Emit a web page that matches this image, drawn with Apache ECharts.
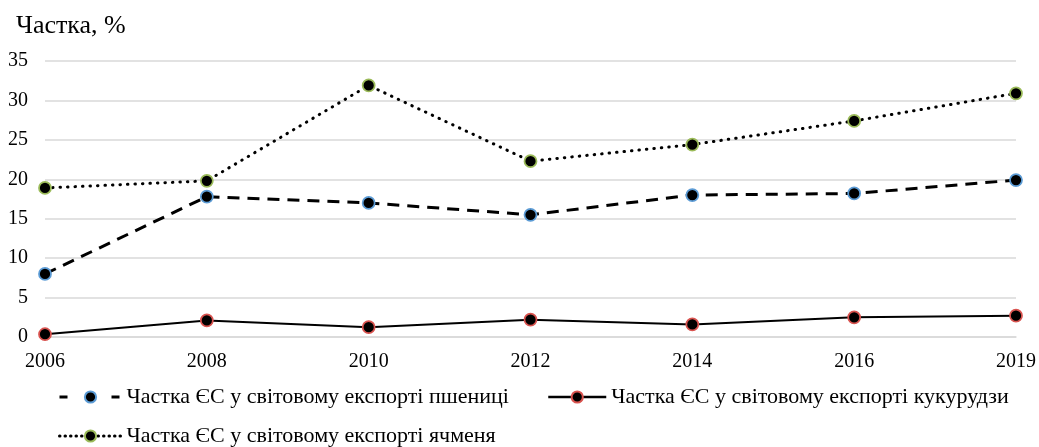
<!DOCTYPE html>
<html>
<head>
<meta charset="utf-8">
<script src="https://cdn.jsdelivr.net/npm/echarts@6/dist/echarts.min.js"></script>
<style>
  html, body { margin: 0; padding: 0; background: #fff; }
  #chart { width: 1039px; height: 447px; }
</style>
</head>
<body>
<div id="chart"></div>
<script>
const years = ["2006", "2008", "2010", "2012", "2014", "2016", "2019"];
const wheat = [8.0, 17.8, 17.0, 15.5, 18.0, 18.2, 19.9];
const corn = [0.35, 2.1, 1.25, 2.2, 1.6, 2.5, 2.7];
const barley = [18.9, 19.8, 31.9, 22.3, 24.4, 27.4, 30.9];
const names = [
	"Частка ЄС у світовому експорті пшениці",
	"Частка ЄС у світовому експорті кукурудзи",
	"Частка ЄС у світовому експорті ячменя"
];

const font = "'Liberation Serif', 'Times New Roman', serif";
const chart = echarts.init(document.getElementById("chart"));

const makeSeries = (name, data, border, lineStyle) => ({
	name,
	type: "line",
	data,
	symbol: "circle",
	symbolSize: 12,
	itemStyle: { color: "#000", borderColor: border, borderWidth: 1.75 },
	lineStyle: Object.assign({ color: "#000" }, lineStyle),
	emphasis: { disabled: true }
});

// one legend per entry so the positions follow the reference
const makeLegend = (name, left, top, width, lineStyle) => ({
	left,
	top,
	itemWidth: width,
	itemHeight: 14,
	itemGap: 0,
	textStyle: { fontFamily: font, fontSize: 22, color: "#000" },
	data: [{ name, lineStyle }],
	selectedMode: false
});

chart.setOption({
	animation: false,
	textStyle: { fontFamily: font },
	title: {
		text: "Частка, %",
		left: 11,
		top: 8,
		textStyle: { fontFamily: font, fontSize: 26, fontWeight: "normal", color: "#000" }
	},
	grid: { left: 45, right: 23, top: 61, bottom: 110 },
	legend: [
		makeLegend(names[0], 53, 381, 62, { type: [8, 18], width: 3 }),
		makeLegend(names[1], 542, 381, 58, { width: 2.5 }),
		makeLegend(names[2], 53, 420, 62, { type: [0.5, 5], cap: "round", width: 3 })
	],
	xAxis: {
		type: "category",
		data: years,
		boundaryGap: false,
		axisLine: { lineStyle: { color: "#d9d9d9", width: 1.5 } },
		axisTick: { show: false },
		axisLabel: { color: "#000", fontSize: 20, fontFamily: font, margin: 15 }
	},
	yAxis: {
		type: "value",
		min: 0,
		max: 35,
		interval: 5,
		axisLine: { show: false },
		axisTick: { show: false },
		splitLine: { lineStyle: { color: "#d9d9d9", width: 1.5 } },
		axisLabel: { color: "#000", fontSize: 20, fontFamily: font, margin: 17 }
	},
	series: [
		makeSeries(names[0], wheat, "#5b9bd5", { width: 3, type: [12, 8] }),
		makeSeries(names[1], corn, "#d9534f", { width: 2, type: "solid" }),
		makeSeries(names[2], barley, "#9bbb59", { width: 3, type: [0.5, 7], cap: "round" })
	]
});
</script>
</body>
</html>
